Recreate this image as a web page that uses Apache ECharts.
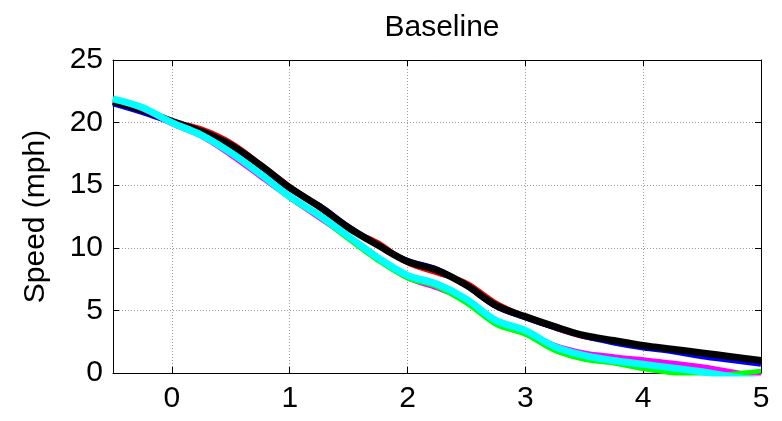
<!DOCTYPE html>
<html>
<head>
<meta charset="utf-8">
<script src="https://cdn.jsdelivr.net/npm/echarts@6/dist/echarts.min.js"></script>
<style>html,body{margin:0;padding:0;background:#fff}#c{width:782px;height:421px}</style>
</head>
<body>
<div id="c"></div>
<script>
const xValues = [-0.5,-0.25,0,0.25,0.5,0.75,1,1.25,1.5,1.75,2,2.25,2.5,2.75,3,3.25,3.5,3.75,4,4.25,4.5,4.75,5];
const redVals     = [21.7,21.0,20.1,19.5,18.4,16.7,14.9,13.3,11.5,10.4,8.8,8.0,7.2,5.6,4.5,3.6,2.9,2.6,2.2,1.9,1.6,1.3,1.0];
const blueVals    = [21.5,20.8,20.0,19.3,18.2,16.5,14.7,13.4,11.7,10.2,9.0,8.3,7.0,5.3,4.4,3.6,2.9,2.4,2.0,1.7,1.3,1.0,0.7];
const blackVals   = [21.7,21.0,20.1,19.3,18.2,16.6,14.8,13.3,11.6,10.2,8.9,8.2,7.0,5.4,4.5,3.7,3.0,2.6,2.2,1.9,1.6,1.3,1.0];
const magentaVals = [21.9,21.1,19.9,18.9,17.4,15.7,14.0,12.4,10.8,9.2,7.6,6.8,5.8,4.2,3.3,2.2,1.6,1.3,1.05,0.8,0.5,0.1,-0.3];
const greenVals   = [21.9,21.2,20.0,19.0,17.6,15.9,14.0,12.5,10.7,9.0,7.6,6.9,5.6,3.9,3.1,1.8,1.1,0.8,0.35,0.0,-0.3,-0.1,0.15];
const cyanVals    = [21.9,21.2,20.0,19.0,17.6,15.9,14.1,12.6,10.9,9.2,7.8,7.1,5.9,4.2,3.4,2.1,1.4,1.0,0.7,0.4,0.1,-0.3,-0.6];
const xTicks = [0,1,2,3,4,5];
const yTicks = [0,5,10,15,20,25];

const seriesDefs = [
  {name:'red', vals:redVals, color:'#ff0000', w:5},
  {name:'blue', vals:blueVals, color:'#0000ff', w:5},
  {name:'black', vals:blackVals, color:'#000000', w:7},
  {name:'magenta', vals:magentaVals, color:'#ff00ff', w:5},
  {name:'green', vals:greenVals, color:'#00ff00', w:5},
  {name:'cyan', vals:cyanVals, color:'#00ffff', w:7}
];

const FONT = 'Liberation Sans, Arial, sans-serif';
const chart = echarts.init(document.getElementById('c'), null, {renderer:'canvas'});
const gridLine = {show:true, lineStyle:{color:'#9a9a9a', type:[1,2], width:1}};
const axisLine = {show:true, onZero:false, lineStyle:{color:'#000', width:1}};
chart.setOption({
  animation:false,
  backgroundColor:'#fff',
  title:{text:'Baseline', left:437, textAlign:'center', top:8,
    textStyle:{fontFamily:FONT, fontSize:30, fontWeight:'normal', color:'#000'}},
  grid:{left:113, right:21, top:60, bottom:48},
  xAxis:[
    {type:'value', min:-0.5, max:5, position:'bottom',
     axisLine:axisLine,
     axisTick:{show:true, inside:true, length:6, customValues:xTicks, lineStyle:{color:'#000'}},
     axisLabel:{customValues:xTicks, fontFamily:FONT, fontSize:30, color:'#000', margin:11},
     splitLine:gridLine},
    {type:'value', min:-0.5, max:5, position:'top',
     axisLine:axisLine,
     axisTick:{show:true, inside:true, length:6, customValues:xTicks, lineStyle:{color:'#000'}},
     axisLabel:{show:false}, splitLine:{show:false}}
  ],
  yAxis:[
    {type:'value', min:0, max:25, interval:5, position:'left',
     name:'Speed (mph)', nameLocation:'middle', nameGap:62,
     nameTextStyle:{fontFamily:FONT, fontSize:30, color:'#000'},
     axisLine:axisLine,
     axisTick:{show:true, inside:true, length:6, lineStyle:{color:'#000'}},
     axisLabel:{fontFamily:FONT, fontSize:30, color:'#000', margin:10},
     splitLine:gridLine},
    {type:'value', min:0, max:25, interval:5, position:'right',
     axisLine:axisLine,
     axisTick:{show:true, inside:true, length:6, lineStyle:{color:'#000'}},
     axisLabel:{show:false}, splitLine:{show:false}}
  ],
  series: seriesDefs.map(s => ({
    type:'line', name:s.name, xAxisIndex:0, yAxisIndex:0,
    data: xValues.map((x,i)=>[x, s.vals[i]]),
    smooth:0.35, showSymbol:false, clip:true,
    lineStyle:{color:s.color, width:s.w}, itemStyle:{color:s.color}
  }))
});
</script>
</body>
</html>
